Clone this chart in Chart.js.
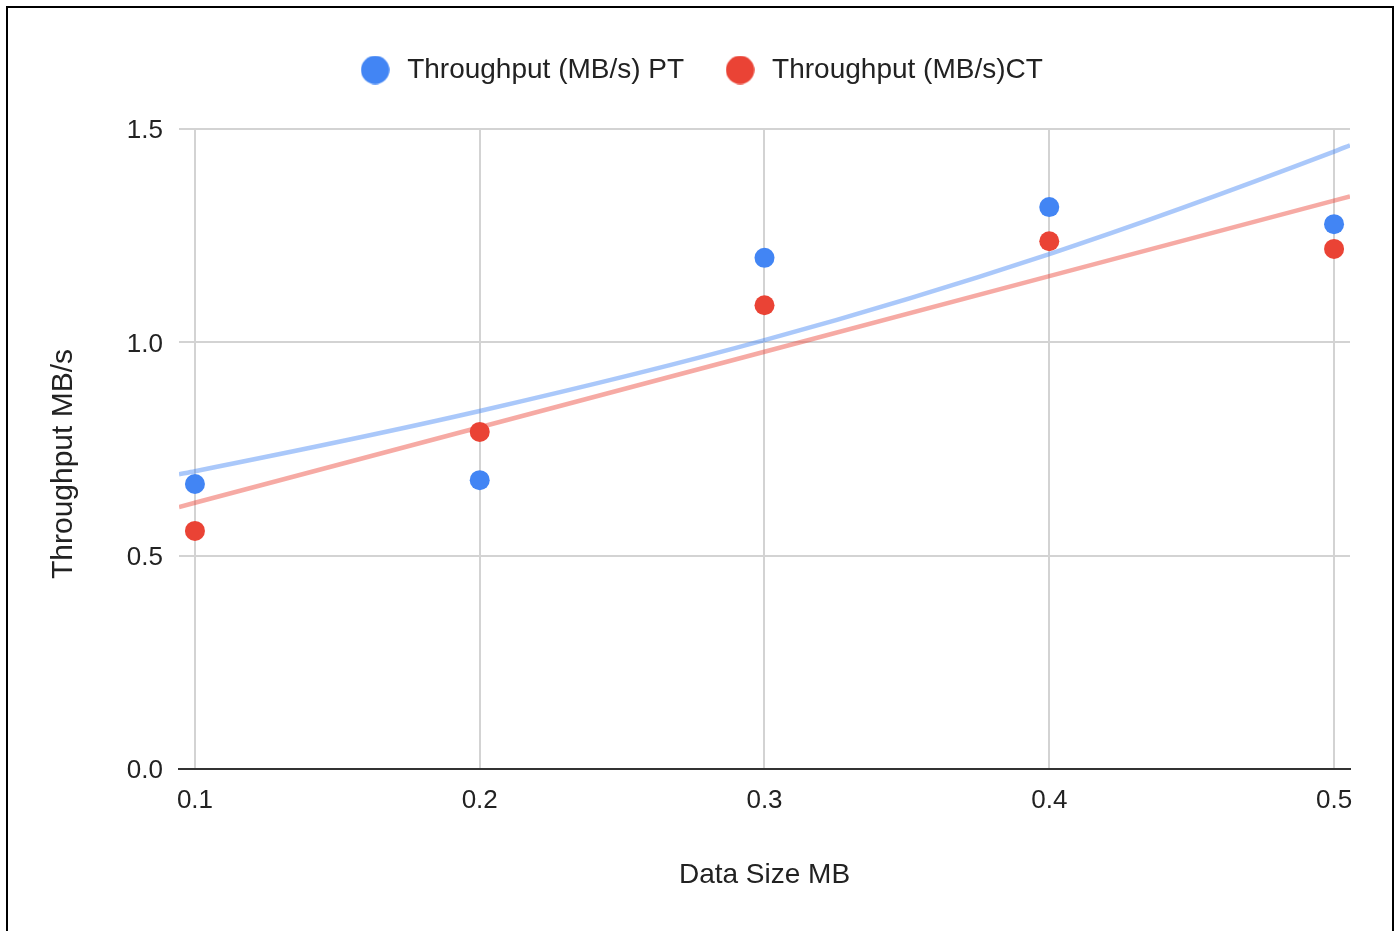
<!DOCTYPE html>
<html>
<head>
<meta charset="utf-8">
<script src="https://cdn.jsdelivr.net/npm/chart.js@4.4.1/dist/chart.umd.min.js"></script>
<style>
  html, body { margin: 0; padding: 0; background: #fff; overflow: hidden; }
  #wrap { position: relative; width: 1397px; height: 931px; }
  #frame { position: absolute; left: 6px; top: 6px; width: 1384px; height: 1000px; border: 2px solid #000; border-bottom: none; pointer-events: none; }
  canvas { position: absolute; left: 0; top: 0; }
</style>
</head>
<body>
<div id="wrap">
  <canvas id="c" width="1397" height="931"></canvas>
  <div id="frame"></div>
</div>
<script>
// ---- data ----
const dataSizes = [0.1, 0.2, 0.3, 0.4, 0.5];
const throughputPT = [0.668, 0.677, 1.198, 1.317, 1.277];
const throughputCT = [0.558, 0.790, 1.087, 1.237, 1.219];
// trendlines (PT exponential, CT linear)
const trendX = [0.0944, 0.1, 0.2, 0.3, 0.4, 0.5, 0.5056];
const trendPT = [0.691, 0.698, 0.839, 1.005, 1.207, 1.447, 1.462];
const trendCT = [0.614, 0.624, 0.801, 0.978, 1.155, 1.332, 1.342];
const xTickValues = [0.1, 0.2, 0.3, 0.4, 0.5];
const yTickValues = [0, 0.5, 1.0, 1.5];
const seriesNames = ['Throughput (MB/s) PT', 'Throughput (MB/s)CT'];
const xTitle = 'Data Size MB';
const yTitle = 'Throughput MB/s';

const pts = (xs, ys) => xs.map((x, i) => ({ x: x, y: ys[i] }));
const FONT = "'Liberation Sans', Arial, sans-serif";
const BLUE = '#4285F4', RED = '#EA4335';

function dot(color) {
  const c = document.createElement('canvas');
  c.width = 29; c.height = 29;
  const g = c.getContext('2d');
  g.fillStyle = color;
  g.beginPath(); g.arc(14.5, 14.5, 14.2, 0, Math.PI * 2); g.fill();
  return c;
}
const legendDots = [dot(BLUE), dot(RED)];

const legendHeightPlugin = {
  id: 'legendHeight',
  beforeLayout(chart) {
    const lg = chart.legend;
    if (lg && !lg._patched) {
      const f = lg.fit.bind(lg);
      lg.fit = function () { f(); this.height = 111; };
      lg._patched = true;
    }
  }
};

// y-axis title, centred on the whole chart height like the reference
const yTitlePlugin = {
  id: 'yTitle',
  afterDraw(chart) {
    const ctx = chart.ctx;
    ctx.save();
    ctx.translate(64, 464);
    ctx.rotate(-Math.PI / 2);
    ctx.font = "30px " + FONT;
    ctx.fillStyle = '#222';
    ctx.textAlign = 'center';
    ctx.textBaseline = 'middle';
    ctx.fillText(yTitle, 0, 0);
    ctx.restore();
  }
};

new Chart(document.getElementById('c'), {
  type: 'scatter',
  data: {
    datasets: [
      { label: seriesNames[0], data: pts(dataSizes, throughputPT), backgroundColor: BLUE, borderColor: BLUE,
        pointRadius: 10, pointHoverRadius: 10, borderWidth: 0, order: 1 },
      { label: seriesNames[1], data: pts(dataSizes, throughputCT), backgroundColor: RED, borderColor: RED,
        pointRadius: 10, pointHoverRadius: 10, borderWidth: 0, order: 1 },
      { label: 'trendPT', data: pts(trendX, trendPT), showLine: true, pointRadius: 0, borderWidth: 4.5,
        borderColor: 'rgba(66,133,244,0.45)', cubicInterpolationMode: 'monotone', order: 2 },
      { label: 'trendCT', data: pts(trendX, trendCT), showLine: true, pointRadius: 0, borderWidth: 4.5,
        borderColor: 'rgba(234,67,53,0.45)', tension: 0, order: 2 }
    ]
  },
  options: {
    responsive: false,
    animation: false,
    layout: { padding: { top: 18, right: 47, bottom: 0, left: 50 } },
    plugins: {
      tooltip: { enabled: false },
      legend: {
        position: 'top',
        align: 'center',
        labels: {
          filter: (item) => item.datasetIndex < 2,
          generateLabels: (chart) => {
            const items = Chart.defaults.plugins.legend.labels.generateLabels(chart);
            items.forEach(it => { if (it.datasetIndex < 2) it.pointStyle = legendDots[it.datasetIndex]; });
            return items;
          },
          usePointStyle: true,
          pointStyleWidth: 36,
          boxHeight: 20,
          padding: 38,
          color: '#222',
          font: { family: FONT, size: 28 }
        }
      }
    },
    scales: {
      x: {
        type: 'linear',
        min: 0.0944,
        max: 0.5056,
        afterFit: (s) => { s.height = 162; },
        afterBuildTicks: (s) => { s.ticks = xTickValues.map(v => ({ value: v })); },
        grid: { color: '#d3d3d3', lineWidth: 2, drawTicks: false },
        border: { display: true, color: '#333', width: 2 },
        ticks: { padding: 16, color: '#222', font: { family: FONT, size: 26 }, callback: (v) => Number(v).toFixed(1) },
        title: { display: true, text: xTitle, color: '#222', font: { family: FONT, size: 28, lineHeight: 1.2 },
                 padding: { top: 0, bottom: 39 } }
      },
      y: {
        type: 'linear',
        min: 0,
        max: 1.5,
        afterFit: (s) => { s.width = 129; },
        afterBuildTicks: (s) => { s.ticks = yTickValues.map(v => ({ value: v })); },
        grid: { color: '#d3d3d3', lineWidth: 2, drawTicks: false },
        border: { display: false },
        ticks: { padding: 16, labelOffset: 2, color: '#222', font: { family: FONT, size: 26 }, callback: (v) => Number(v).toFixed(1) },
        title: { display: false, text: yTitle }
      }
    }
  },
  plugins: [legendHeightPlugin, yTitlePlugin]
});
</script>
</body>
</html>
